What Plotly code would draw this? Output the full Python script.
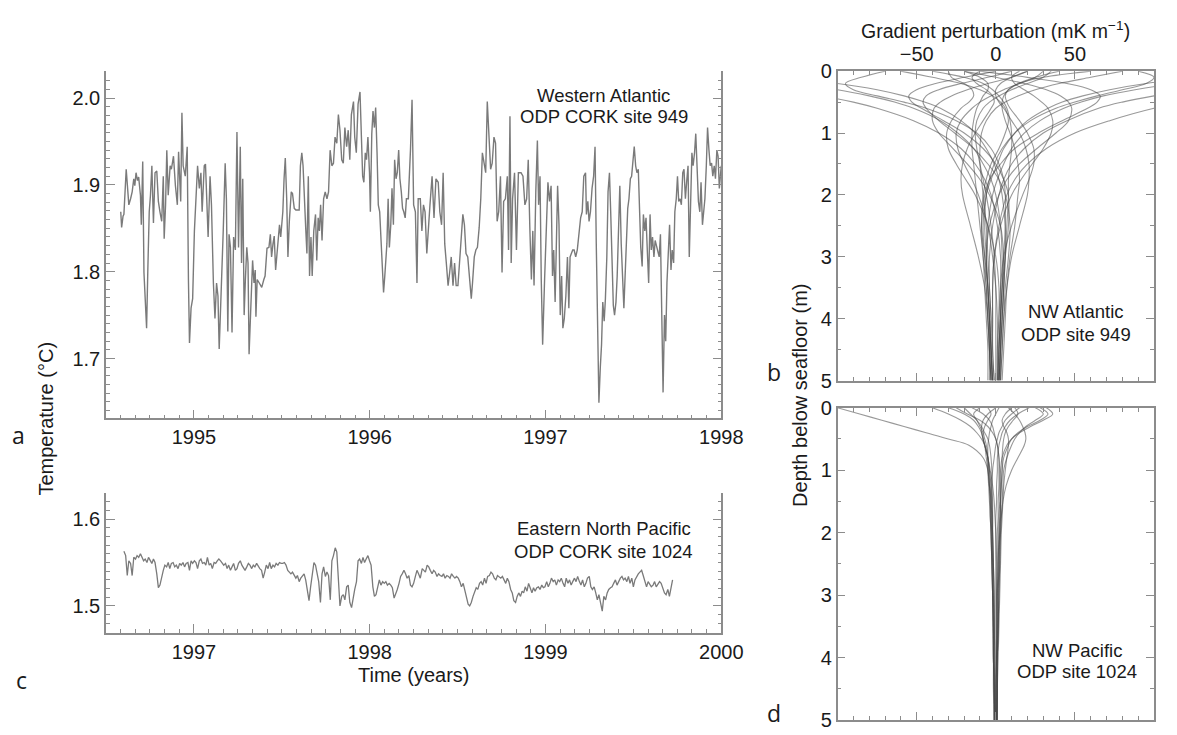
import plotly.graph_objects as go

# ---------------- data: panel a (Western Atlantic, ODP CORK 949) ----------------
A_POINTS = [
    (1994.584, 1.869), (1994.589, 1.851), (1994.597, 1.864), (1994.602, 1.866), (1994.615, 1.918),
    (1994.630, 1.877), (1994.640, 1.884), (1994.649, 1.892), (1994.658, 1.907), (1994.664, 1.899),
    (1994.671, 1.914), (1994.679, 1.905), (1994.686, 1.909), (1994.696, 1.888), (1994.701, 1.854),
    (1994.709, 1.927), (1994.716, 1.799), (1994.723, 1.765), (1994.731, 1.735), (1994.738, 1.802),
    (1994.746, 1.869), (1994.753, 1.888), (1994.761, 1.922), (1994.770, 1.856), (1994.779, 1.914),
    (1994.789, 1.916), (1994.798, 1.881), (1994.807, 1.869), (1994.817, 1.858), (1994.826, 1.910),
    (1994.831, 1.838), (1994.839, 1.877), (1994.846, 1.940), (1994.854, 1.888), (1994.865, 1.922),
    (1994.872, 1.918), (1994.884, 1.933), (1994.895, 1.899), (1994.906, 1.877), (1994.913, 1.938),
    (1994.925, 1.881), (1994.932, 1.983), (1994.939, 1.922), (1994.951, 1.910), (1994.962, 1.944),
    (1994.969, 1.791), (1994.975, 1.718), (1994.984, 1.758), (1994.993, 1.769), (1995.003, 1.847),
    (1995.012, 1.884), (1995.021, 1.922), (1995.031, 1.896), (1995.040, 1.914), (1995.047, 1.869),
    (1995.059, 1.922), (1995.066, 1.924), (1995.074, 1.884), (1995.081, 1.840), (1995.092, 1.910),
    (1995.100, 1.877), (1995.111, 1.787), (1995.120, 1.746), (1995.129, 1.787), (1995.137, 1.772),
    (1995.144, 1.711), (1995.155, 1.772), (1995.167, 1.847), (1995.178, 1.925), (1995.185, 1.884),
    (1995.193, 1.731), (1995.200, 1.843), (1995.208, 1.828), (1995.217, 1.730), (1995.226, 1.840),
    (1995.236, 1.825), (1995.245, 1.961), (1995.254, 1.828), (1995.264, 1.944), (1995.271, 1.810),
    (1995.278, 1.907), (1995.286, 1.750), (1995.293, 1.791), (1995.301, 1.828), (1995.308, 1.810),
    (1995.314, 1.705), (1995.323, 1.754), (1995.331, 1.791), (1995.334, 1.813), (1995.342, 1.787),
    (1995.349, 1.802), (1995.353, 1.748), (1995.360, 1.791), (1995.372, 1.787), (1995.386, 1.782),
    (1995.398, 1.791), (1995.405, 1.795), (1995.416, 1.827), (1995.427, 1.828), (1995.435, 1.843),
    (1995.442, 1.817), (1995.450, 1.832), (1995.457, 1.841), (1995.465, 1.802), (1995.472, 1.821),
    (1995.480, 1.838), (1995.487, 1.854), (1995.494, 1.840), (1995.506, 1.869), (1995.513, 1.907),
    (1995.520, 1.931), (1995.528, 1.884), (1995.535, 1.817), (1995.543, 1.858), (1995.554, 1.892),
    (1995.561, 1.890), (1995.571, 1.873), (1995.580, 1.871), (1995.599, 1.871), (1995.606, 1.922),
    (1995.614, 1.937), (1995.621, 1.922), (1995.628, 1.877), (1995.636, 1.851), (1995.643, 1.821),
    (1995.651, 1.910), (1995.658, 1.795), (1995.666, 1.840),
    (1995.673, 1.795), (1995.682, 1.847), (1995.692, 1.866), (1995.699, 1.813), (1995.707, 1.862),
    (1995.714, 1.847), (1995.721, 1.877), (1995.729, 1.836), (1995.738, 1.884), (1995.747, 1.892),
    (1995.757, 1.884), (1995.766, 1.892), (1995.775, 1.940), (1995.785, 1.922), (1995.794, 1.925),
    (1995.803, 1.955), (1995.813, 1.948), (1995.822, 1.981), (1995.831, 1.963), (1995.841, 1.929),
    (1995.850, 1.925), (1995.859, 1.966), (1995.869, 1.944), (1995.878, 1.963), (1995.887, 1.929),
    (1995.896, 1.981), (1995.908, 1.996), (1995.915, 1.955), (1995.924, 1.937), (1995.934, 1.993),
    (1995.945, 2.007), (1995.952, 1.959), (1995.960, 1.910), (1995.967, 1.903), (1995.975, 1.937),
    (1995.982, 1.929), (1995.990, 1.955), (1995.999, 1.914), (1996.004, 1.869), (1996.012, 1.959),
    (1996.019, 1.985), (1996.027, 1.966), (1996.034, 1.989), (1996.042, 1.937), (1996.049, 1.877),
    (1996.057, 1.869), (1996.064, 1.840), (1996.072, 1.795), (1996.079, 1.776), (1996.086, 1.795),
    (1996.098, 1.832), (1996.105, 1.884), (1996.112, 1.828), (1996.120, 1.854), (1996.127, 1.896),
    (1996.135, 1.854), (1996.142, 1.929), (1996.150, 1.907), (1996.157, 1.914), (1996.165, 1.940),
    (1996.172, 1.907), (1996.180, 1.892), (1996.187, 1.873), (1996.194, 1.869), (1996.202, 1.862),
    (1996.209, 1.884), (1996.220, 1.884), (1996.232, 1.940), (1996.241, 1.998), (1996.250, 1.877),
    (1996.260, 1.869), (1996.269, 1.787), (1996.276, 1.884), (1996.288, 1.884), (1996.297, 1.847),
    (1996.306, 1.877), (1996.315, 1.869), (1996.325, 1.821), (1996.334, 1.854), (1996.343, 1.877),
    (1996.355, 1.910), (1996.366, 1.862), (1996.377, 1.907), (1996.390, 1.903), (1996.399, 1.869),
    (1996.409, 1.854), (1996.418, 1.914), (1996.427, 1.832), (1996.436, 1.810), (1996.446, 1.784),
    (1996.455, 1.799), (1996.464, 1.817), (1996.474, 1.784), (1996.483, 1.810), (1996.492, 1.784),
    (1996.502, 1.784), (1996.511, 1.810), (1996.520, 1.840), (1996.530, 1.866), (1996.539, 1.854),
    (1996.548, 1.821), (1996.558, 1.817), (1996.567, 1.791), (1996.578, 1.769), (1996.585, 1.787),
    (1996.595, 1.817), (1996.604, 1.825), (1996.613, 1.828), (1996.623, 1.851), (1996.632, 1.884),
    (1996.641, 1.937), (1996.651, 1.922), (1996.660, 1.914), (1996.669, 1.996), (1996.679, 1.951),
    (1996.688, 1.918), (1996.697, 1.925), (1996.707, 1.955), (1996.716, 1.948), (1996.725, 1.858),
    (1996.734, 1.869), (1996.744, 1.910), (1996.753, 1.799), (1996.762, 1.881), (1996.772, 1.884),
    (1996.783, 1.910), (1996.790, 1.825), (1996.798, 1.979), (1996.805, 1.810), (1996.813, 1.884),
    (1996.824, 1.914), (1996.835, 1.825),
    (1996.846, 1.914), (1996.861, 1.914), (1996.872, 1.910), (1996.883, 1.877), (1996.893, 1.884),
    (1996.902, 1.929), (1996.911, 1.851), (1996.920, 1.791), (1996.928, 1.847), (1996.935, 1.784),
    (1996.945, 1.892), (1996.954, 1.951), (1996.961, 1.877), (1996.969, 1.910), (1996.976, 1.791),
    (1996.984, 1.716), (1996.995, 1.791), (1997.006, 1.866), (1997.014, 1.903), (1997.023, 1.881),
    (1997.032, 1.899), (1997.040, 1.795), (1997.047, 1.825), (1997.055, 1.765), (1997.062, 1.851),
    (1997.069, 1.899), (1997.077, 1.854), (1997.084, 1.750), (1997.092, 1.795), (1997.099, 1.735),
    (1997.107, 1.746), (1997.116, 1.772), (1997.125, 1.817), (1997.133, 1.758), (1997.140, 1.817),
    (1997.148, 1.821), (1997.155, 1.825), (1997.163, 1.825), (1997.172, 1.817), (1997.181, 1.825),
    (1997.191, 1.847), (1997.200, 1.862), (1997.209, 1.869), (1997.218, 1.910), (1997.228, 1.914),
    (1997.233, 1.866), (1997.241, 1.881), (1997.248, 1.858), (1997.256, 1.869), (1997.265, 1.896),
    (1997.274, 1.910), (1997.282, 1.944), (1997.289, 1.832), (1997.297, 1.713), (1997.304, 1.649),
    (1997.312, 1.690), (1997.319, 1.716), (1997.326, 1.765), (1997.334, 1.743), (1997.341, 1.769),
    (1997.349, 1.817), (1997.356, 1.892), (1997.364, 1.914), (1997.371, 1.869), (1997.379, 1.795),
    (1997.386, 1.761), (1997.393, 1.750), (1997.401, 1.765), (1997.408, 1.795), (1997.416, 1.840),
    (1997.423, 1.899), (1997.431, 1.832), (1997.438, 1.791), (1997.446, 1.758), (1997.453, 1.795),
    (1997.461, 1.847), (1997.468, 1.873), (1997.475, 1.884), (1997.483, 1.907), (1997.490, 1.910),
    (1997.498, 1.925), (1997.505, 1.944), (1997.513, 1.922), (1997.520, 1.914), (1997.528, 1.918),
    (1997.535, 1.866), (1997.542, 1.828), (1997.550, 1.806), (1997.557, 1.866), (1997.565, 1.847),
    (1997.572, 1.862), (1997.580, 1.821), (1997.587, 1.787), (1997.595, 1.866), (1997.602, 1.825),
    (1997.609, 1.840), (1997.617, 1.817), (1997.624, 1.836), (1997.632, 1.828), (1997.639, 1.825),
    (1997.647, 1.817), (1997.654, 1.843), (1997.662, 1.750), (1997.669, 1.661), (1997.677, 1.750),
    (1997.684, 1.720), (1997.691, 1.787), (1997.699, 1.825), (1997.706, 1.854), (1997.714, 1.802),
    (1997.721, 1.825), (1997.729, 1.810), (1997.736, 1.869), (1997.744, 1.884), (1997.751, 1.910),
    (1997.758, 1.881), (1997.766, 1.884), (1997.773, 1.877), (1997.781, 1.914), (1997.788, 1.918),
    (1997.796, 1.884), (1997.803, 1.903), (1997.811, 1.922), (1997.818, 1.817), (1997.826, 1.892),
    (1997.833, 1.937), (1997.840, 1.922), (1997.848, 1.937), (1997.855, 1.959), (1997.863, 1.914),
    (1997.870, 1.881), (1997.878, 1.869), (1997.885, 1.903), (1997.893, 1.854), (1997.900, 1.869),
    (1997.907, 1.884), (1997.915, 1.922), (1997.922, 1.966), (1997.930, 1.940), (1997.937, 1.922),
    (1997.945, 1.925), (1997.952, 1.910), (1997.960, 1.922), (1997.967, 1.907), (1997.975, 1.940),
    (1997.982, 1.933), (1997.989, 1.896), (1998.000, 1.922),
]

# ---------------- data: panel c (Eastern North Pacific, ODP CORK 1024) ----------------
C_POINTS = [
    (1996.602, 1.563), (1996.612, 1.558), (1996.621, 1.535), (1996.630, 1.552), (1996.640, 1.549),
    (1996.649, 1.535), (1996.658, 1.556), (1996.668, 1.554), (1996.677, 1.558), (1996.686, 1.556),
    (1996.696, 1.560), (1996.705, 1.556), (1996.714, 1.552), (1996.723, 1.554), (1996.733, 1.550),
    (1996.742, 1.556), (1996.751, 1.552), (1996.761, 1.549), (1996.770, 1.554), (1996.779, 1.550),
    (1996.789, 1.537), (1996.798, 1.521), (1996.807, 1.524), (1996.817, 1.534), (1996.826, 1.541),
    (1996.835, 1.547), (1996.845, 1.545), (1996.854, 1.550), (1996.863, 1.543), (1996.872, 1.549),
    (1996.882, 1.550), (1996.891, 1.545), (1996.900, 1.547), (1996.910, 1.543), (1996.919, 1.549),
    (1996.928, 1.547), (1996.938, 1.550), (1996.947, 1.545), (1996.956, 1.549), (1996.966, 1.550),
    (1996.975, 1.541), (1996.984, 1.552), (1996.993, 1.549), (1997.003, 1.552), (1997.012, 1.550),
    (1997.021, 1.543), (1997.031, 1.552), (1997.040, 1.554), (1997.049, 1.549), (1997.059, 1.550),
    (1997.068, 1.547), (1997.077, 1.556), (1997.087, 1.547), (1997.096, 1.549), (1997.105, 1.543),
    (1997.115, 1.550), (1997.124, 1.549), (1997.133, 1.552), (1997.142, 1.554), (1997.152, 1.552),
    (1997.161, 1.550), (1997.170, 1.547), (1997.180, 1.549), (1997.189, 1.543), (1997.198, 1.547),
    (1997.208, 1.541), (1997.217, 1.545), (1997.226, 1.549), (1997.236, 1.541), (1997.245, 1.543),
    (1997.254, 1.549), (1997.264, 1.552), (1997.273, 1.547), (1997.282, 1.543), (1997.291, 1.541),
    (1997.301, 1.545), (1997.310, 1.549), (1997.319, 1.547), (1997.329, 1.543), (1997.338, 1.547),
    (1997.347, 1.545), (1997.357, 1.549), (1997.366, 1.545), (1997.375, 1.543), (1997.385, 1.541),
    (1997.394, 1.532), (1997.403, 1.539), (1997.412, 1.547), (1997.422, 1.543), (1997.431, 1.550),
    (1997.440, 1.543), (1997.450, 1.547), (1997.459, 1.545), (1997.468, 1.549), (1997.478, 1.547),
    (1997.487, 1.550), (1997.496, 1.549), (1997.506, 1.549), (1997.515, 1.550), (1997.524, 1.547),
    (1997.534, 1.541), (1997.543, 1.539), (1997.552, 1.537), (1997.561, 1.539), (1997.571, 1.535),
    (1997.580, 1.532), (1997.589, 1.535), (1997.599, 1.528), (1997.608, 1.532), (1997.617, 1.534),
    (1997.627, 1.537), (1997.636, 1.530), (1997.645, 1.517), (1997.655, 1.506), (1997.664, 1.522),
    (1997.673, 1.537), (1997.683, 1.550), (1997.692, 1.547), (1997.701, 1.537), (1997.710, 1.528),
    (1997.720, 1.504), (1997.729, 1.537), (1997.738, 1.545), (1997.748, 1.534), (1997.757, 1.539),
    (1997.766, 1.535), (1997.776, 1.507), (1997.785, 1.552), (1997.794, 1.558), (1997.804, 1.567),
    (1997.813, 1.562), (1997.822, 1.526), (1997.831, 1.500), (1997.841, 1.511), (1997.850, 1.513),
    (1997.859, 1.507), (1997.869, 1.522), (1997.878, 1.524), (1997.887, 1.504), (1997.897, 1.498),
    (1997.906, 1.511), (1997.915, 1.519), (1997.925, 1.528), (1997.934, 1.552), (1997.943, 1.554),
    (1997.953, 1.549), (1997.962, 1.556), (1997.971, 1.550), (1997.980, 1.554), (1997.990, 1.558),
    (1997.999, 1.552), (1998.008, 1.547), (1998.018, 1.522), (1998.027, 1.511), (1998.036, 1.513),
    (1998.046, 1.522), (1998.055, 1.530), (1998.064, 1.524), (1998.074, 1.528), (1998.083, 1.526),
    (1998.092, 1.528), (1998.101, 1.524), (1998.111, 1.526), (1998.120, 1.524), (1998.129, 1.521),
    (1998.139, 1.509), (1998.148, 1.513), (1998.157, 1.519), (1998.167, 1.526), (1998.176, 1.534),
    (1998.185, 1.537), (1998.195, 1.541), (1998.204, 1.537), (1998.213, 1.532), (1998.223, 1.535),
    (1998.232, 1.524), (1998.241, 1.522), (1998.250, 1.526), (1998.260, 1.534), (1998.269, 1.541),
    (1998.278, 1.537), (1998.288, 1.532),
    (1998.299, 1.543), (1998.308, 1.541), (1998.317, 1.539), (1998.327, 1.547), (1998.336, 1.545),
    (1998.345, 1.541), (1998.355, 1.537), (1998.364, 1.541), (1998.373, 1.539), (1998.383, 1.534),
    (1998.392, 1.537), (1998.401, 1.535), (1998.411, 1.534), (1998.420, 1.537), (1998.429, 1.532),
    (1998.439, 1.535), (1998.448, 1.534), (1998.457, 1.532), (1998.466, 1.537), (1998.476, 1.534),
    (1998.485, 1.532), (1998.494, 1.534), (1998.504, 1.532), (1998.513, 1.528), (1998.522, 1.522),
    (1998.532, 1.526), (1998.541, 1.519), (1998.550, 1.509), (1998.560, 1.502), (1998.569, 1.500),
    (1998.578, 1.504), (1998.588, 1.511), (1998.597, 1.515), (1998.606, 1.521), (1998.615, 1.519),
    (1998.625, 1.526), (1998.634, 1.528), (1998.643, 1.524), (1998.653, 1.532), (1998.662, 1.526),
    (1998.671, 1.534), (1998.681, 1.535), (1998.690, 1.539), (1998.699, 1.537), (1998.709, 1.532),
    (1998.718, 1.530), (1998.727, 1.535), (1998.736, 1.534), (1998.746, 1.532), (1998.755, 1.534),
    (1998.764, 1.530), (1998.774, 1.526), (1998.783, 1.532), (1998.792, 1.528), (1998.802, 1.519),
    (1998.811, 1.515), (1998.820, 1.506), (1998.830, 1.504), (1998.839, 1.511), (1998.848, 1.515),
    (1998.858, 1.511), (1998.867, 1.517), (1998.876, 1.515), (1998.885, 1.522), (1998.895, 1.517),
    (1998.904, 1.526), (1998.913, 1.521), (1998.923, 1.515), (1998.932, 1.521), (1998.941, 1.517),
    (1998.951, 1.521), (1998.960, 1.522), (1998.969, 1.519), (1998.979, 1.524), (1998.988, 1.521),
    (1998.997, 1.522), (1999.007, 1.528), (1999.016, 1.522), (1999.025, 1.526), (1999.034, 1.532),
    (1999.044, 1.528), (1999.053, 1.530), (1999.062, 1.524), (1999.072, 1.530), (1999.081, 1.528),
    (1999.090, 1.532), (1999.100, 1.526), (1999.109, 1.522), (1999.118, 1.532), (1999.128, 1.526),
    (1999.137, 1.530), (1999.146, 1.524), (1999.155, 1.528), (1999.165, 1.532), (1999.174, 1.528),
    (1999.183, 1.534), (1999.193, 1.528), (1999.202, 1.524), (1999.211, 1.530), (1999.221, 1.522),
    (1999.230, 1.526), (1999.239, 1.532), (1999.249, 1.534), (1999.258, 1.522), (1999.267, 1.519),
    (1999.277, 1.522), (1999.286, 1.515), (1999.295, 1.507), (1999.304, 1.513), (1999.314, 1.504),
    (1999.323, 1.494), (1999.332, 1.511), (1999.342, 1.507), (1999.351, 1.515), (1999.360, 1.519),
    (1999.370, 1.521), (1999.379, 1.522), (1999.388, 1.526), (1999.398, 1.530), (1999.407, 1.524),
    (1999.416, 1.528), (1999.426, 1.532), (1999.435, 1.534), (1999.444, 1.530), (1999.453, 1.532),
    (1999.463, 1.528), (1999.472, 1.534), (1999.481, 1.526), (1999.491, 1.532), (1999.500, 1.522),
    (1999.509, 1.530), (1999.519, 1.534), (1999.528, 1.537), (1999.537, 1.539), (1999.547, 1.541),
    (1999.556, 1.535), (1999.565, 1.528), (1999.575, 1.522), (1999.584, 1.528), (1999.593, 1.524),
    (1999.602, 1.522), (1999.612, 1.524), (1999.621, 1.528), (1999.630, 1.522), (1999.640, 1.526),
    (1999.649, 1.528), (1999.658, 1.526), (1999.668, 1.519), (1999.677, 1.515), (1999.686, 1.513),
    (1999.696, 1.519), (1999.705, 1.511), (1999.714, 1.522), (1999.723, 1.530),
]

# ---------------- data: gradient perturbation profiles (mK/m) ----------------
DEPTHS = [0, 0.1, 0.2, 0.3, 0.4, 0.5, 0.6, 0.8, 1.0, 1.25, 1.5, 1.75, 2.0, 2.5, 3.0, 3.5, 4.0, 4.5, 5.0]

B_PROFILES = [
    [200, 130, 95, 72, 55, 42, 33, 20, 12, 5, 1, -3, -6, -8, -7, -6, -5, -4, -4],
    [250, 160, 115, 88, 68, 54, 43, 28, 18, 10, 5, 1, -2, -5, -6, -5, -4, -4, -3],
    [300, 220, 160, 125, 100, 80, 65, 45, 30, 18, 10, 5, 2, -2, -4, -4, -3, -3, -2],
    [400, 300, 230, 180, 145, 120, 100, 72, 50, 32, 20, 12, 7, 2, -1, -2, -2, -2, -1],
    [-200, -140, -100, -75, -58, -45, -35, -22, -13, -6, -1, 2, 4, 6, 6, 5, 4, 3, 3],
    [-250, -180, -130, -100, -80, -64, -52, -35, -24, -14, -8, -3, 0, 3, 4, 4, 3, 3, 2],
    [-300, -230, -170, -135, -110, -90, -75, -52, -36, -22, -13, -7, -3, 1, 3, 3, 3, 2, 2],
    [0, -20, -38, -50, -55, -53, -47, -33, -20, -8, 0, 5, 8, 8, 6, 4, 3, 2, 2],
    [10, -5, -22, -36, -44, -46, -44, -36, -26, -14, -5, 2, 6, 9, 8, 6, 5, 4, 3],
    [20, 10, -5, -18, -28, -35, -39, -40, -36, -27, -18, -10, -4, 3, 5, 5, 4, 3, 2],
    [-30, -28, -20, -15, -14, -17, -22, -28, -31, -30, -25, -19, -13, -5, 0, 2, 2, 2, 1],
    [30, 25, 15, 5, -3, -10, -15, -22, -25, -24, -20, -15, -11, -5, -2, 0, 1, 1, 1],
    [-10, -15, -12, -6, -2, -1, -3, -8, -13, -18, -21, -22, -21, -16, -11, -7, -5, -4, -3],
    [-20, -10, -5, -5, -8, -10, -12, -14, -15, -15, -14, -13, -12, -10, -8, -7, -6, -5, -5],
    [-10, 20, 45, 60, 66, 64, 58, 42, 27, 12, 3, -4, -7, -9, -7, -5, -4, -3, -3],
    [-20, 0, 18, 32, 41, 46, 48, 46, 38, 26, 15, 7, 2, -4, -6, -5, -4, -3, -2],
    [15, 10, 12, 18, 24, 29, 33, 36, 35, 30, 23, 16, 10, 3, -1, -2, -2, -2, -1],
    [40, 25, 14, 8, 6, 7, 9, 15, 20, 24, 24, 21, 17, 10, 5, 3, 2, 1, 1],
    [20, 10, 3, 0, 0, 2, 5, 10, 15, 19, 21, 21, 20, 15, 10, 7, 5, 4, 3],
    [60, 30, 15, 8, 5, 4, 4, 6, 9, 12, 14, 15, 14, 12, 9, 7, 6, 5, 4],
    [-40, -20, -8, -2, 2, 5, 7, 9, 10, 10, 9, 8, 8, 7, 6, 5, 4, 3, 2],
    [35, 30, 20, 10, 2, -4, -8, -12, -13, -12, -10, -8, -6, -3, -1, 0, 0, 0, 0],
    [-60, -40, -22, -10, -2, 3, 6, 8, 6, 2, -3, -6, -8, -9, -8, -6, -5, -4, -3],
    [80, 60, 40, 25, 14, 6, 0, -6, -9, -10, -10, -9, -8, -6, -5, -4, -3, -3, -2],
    [-70, -85, -95, -90, -75, -58, -44, -25, -12, -3, 2, 5, 6, 6, 5, 4, 3, 2, 2],
    [90, 100, 95, 80, 64, 50, 38, 22, 12, 4, -1, -4, -6, -7, -6, -5, -4, -3, -2],
]

D_PROFILES = [
    [-100, -86, -72, -58, -44, -30, -17, -8, -5, -4, -3.5, -3, -3, -2.5, -2, -1.5, -1.5, -1, -1],
    [32, 36, 30, 22, 15, 10, 7, 4, 3, 2.5, 2.5, 2, 2, 1.5, 1, 1, 0.5, 0.5, 0.5],
    [28, 33, 28, 20, 14, 10, 8, 5, 4, 3.5, 3, 3, 2.5, 2, 1.5, 1.5, 1, 1, 0.5],
    [25, 30, 25, 19, 15, 12, 10, 7, 5, 4.5, 4, 3.5, 3, 2.5, 2, 1.5, 1, 1, 1],
    [21, 14, 9, 6, 4, 3, 2, 1, 1, 0.5, 0.5, 0, 0, 0, 0, 0, 0, 0, 0],
    [-40, -30, -22, -16, -12, -9, -7, -5, -4, -3.5, -3, -3, -2.5, -2, -1.5, -1, -1, -1, -0.5],
    [-20, -16, -12, -9, -7, -5, -4, -3, -2.5, -2.5, -2, -2, -2, -1.5, -1.5, -1, -1, -1, -0.5],
    [-10, -14, -12, -10, -8, -7, -6, -5, -4.5, -4, -3.5, -3.5, -3, -2.5, -2, -2, -1.5, -1.5, -1],
    [-5, -3, -5, -7, -8, -8, -7, -5, -4, -3, -2.5, -2, -2, -1.5, -1, -1, -1, -0.5, -0.5],
    [8, 12, 15, 17, 18.5, 19, 18, 14, 10, 6.5, 4.5, 3.5, 3, 2.5, 2, 1.5, 1, 1, 0.5],
    [10, 6, 4, 5, 7, 8, 8, 7, 6, 5, 4.5, 4, 3.5, 3, 2.5, 2, 1.5, 1, 1],
    [-15, -8, -4, -2, -1, 0, 1, 2, 2.5, 3, 3, 2.5, 2, 1.5, 1, 1, 0.5, 0.5, 0.5],
    [0, -5, -8, -9, -9, -8, -7, -5, -3.5, -2, -1, -0.5, 0, 0.5, 0.5, 0.5, 0.5, 0, 0],
    [15, 10, 6, 4, 2, 1, 0, -1, -2, -2.5, -2.5, -2.5, -2.5, -2, -2, -1.5, -1.5, -1, -1],
    [-25, -18, -10, -5, -2, 0, 1, 2, 2, 2, 1.5, 1.5, 1, 1, 0.5, 0.5, 0.5, 0, 0],
    [2, 0, -2, -3, -4, -4.5, -5, -5, -5, -4.5, -4, -3.5, -3, -2.5, -2, -1.5, -1.5, -1, -1],
    [12, 14, 11, 8, 6, 5, 4.5, 4, 4, 3.5, 3, 3, 2.5, 2, 1.5, 1.5, 1, 1, 1],
    [-30, -20, -14, -11, -9, -8, -7, -6, -5, -4, -3, -2.5, -2, -1.5, -1, -1, -0.5, -0.5, 0],
]

A_TICKS = [1995, 1996, 1997, 1998]
C_TICKS = [1997, 1998, 1999, 2000]
A_YTICKS = [1.7, 1.8, 1.9, 2.0]
C_YTICKS = [1.5, 1.6]
G_TICKS = [-50, 0, 50]
G_TICKTEXT = ["\u221250", "0", "50"]
DEPTH_TICKS = [0, 1, 2, 3, 4, 5]

# ---------------- figure ----------------
fig = go.Figure()

SERIES_COLOR = "#7a7a7a"
PROFILE_COLOR = "rgba(70,70,70,0.55)"

fig.add_trace(go.Scatter(x=[p[0] for p in A_POINTS], y=[p[1] for p in A_POINTS],
                         mode="lines", line=dict(color=SERIES_COLOR, width=1.4),
                         xaxis="x", yaxis="y", hoverinfo="skip"))
fig.add_trace(go.Scatter(x=[p[0] for p in C_POINTS], y=[p[1] for p in C_POINTS],
                         mode="lines", line=dict(color=SERIES_COLOR, width=1.3),
                         xaxis="x2", yaxis="y2", hoverinfo="skip"))
for prof in B_PROFILES:
    fig.add_trace(go.Scatter(x=prof, y=DEPTHS, mode="lines",
                             line=dict(color=PROFILE_COLOR, width=1.1, shape="spline", smoothing=1.0),
                             xaxis="x3", yaxis="y3", hoverinfo="skip"))
for prof in D_PROFILES:
    fig.add_trace(go.Scatter(x=prof, y=DEPTHS, mode="lines",
                             line=dict(color=PROFILE_COLOR, width=1.1, shape="spline", smoothing=1.0),
                             xaxis="x4", yaxis="y4", hoverinfo="skip"))

AXC = "#8c8c8c"
TICKFONT = dict(family="Liberation Sans, Arial, sans-serif", size=20, color="#1a1a1a")
base = dict(showline=True, linecolor=AXC, linewidth=1.5, ticks="inside", tickcolor=AXC,
            tickwidth=1.2, showgrid=False, zeroline=False, tickfont=TICKFONT, fixedrange=True)

def minor(t0, dt):
    return dict(tick0=t0, dtick=dt, ticks="inside", ticklen=4, tickcolor=AXC, tickwidth=1, showgrid=False)

XA = [108 / 1177, 735 / 1177]
XB = [853.5 / 1177, 1176 / 1177]

fig.update_layout(
    width=1177, height=735, margin=dict(l=0, r=0, t=0, b=0),
    paper_bgcolor="white", plot_bgcolor="white", showlegend=False,
    xaxis=dict(base, domain=XA, range=[1994.5, 1998.0], tickvals=A_TICKS, ticklen=9,
               minor=minor(1995, 1 / 12), anchor="y"),
    yaxis=dict(base, domain=[1 - 420 / 735, 1 - 62 / 735], range=[1.631, 2.031],
               tickvals=A_YTICKS, ticktext=["%.1f" % v for v in A_YTICKS], ticklen=9,
               minor=minor(1.7, 0.01), mirror="ticks", anchor="x"),
    xaxis2=dict(base, domain=XA, range=[1996.5, 2000.0], tickvals=C_TICKS, ticklen=9,
                minor=minor(1997, 1 / 12), anchor="y2"),
    yaxis2=dict(base, domain=[1 - 641 / 735, 1 - 497 / 735], range=[1.469, 1.630],
                tickvals=C_YTICKS, ticktext=["%.1f" % v for v in C_YTICKS], ticklen=9,
                minor=minor(1.5, 0.01), mirror="ticks", anchor="x2"),
    xaxis3=dict(base, domain=XB, range=[-100, 100], side="top", tickvals=G_TICKS,
                ticktext=G_TICKTEXT, ticklen=8, minor=minor(0, 10), mirror="ticks", anchor="y3"),
    yaxis3=dict(base, domain=[1 - 381 / 735, 1 - 62 / 735], range=[5, 0], tickvals=DEPTH_TICKS,
                ticklen=8, minor=minor(0, 0.5), mirror="ticks", anchor="x3"),
    xaxis4=dict(base, domain=XB, range=[-100, 100], side="top", tickvals=G_TICKS,
                showticklabels=False, ticklen=8, minor=minor(0, 10), mirror="ticks", anchor="y4"),
    yaxis4=dict(base, domain=[1 - 731 / 735, 1 - 409 / 735], range=[5, 0], tickvals=DEPTH_TICKS,
                ticklen=8, minor=minor(0, 0.5), mirror="ticks", anchor="x4"),
)

TXT = "Liberation Sans, Arial, sans-serif"
LET = "Open Sans, sans-serif"

def ann(text, x, y, size=18.5, family=TXT, angle=0, xanchor="center"):
    fig.add_annotation(text=text, x=x / 1177, y=1 - y / 735, xref="paper", yref="paper",
                       showarrow=False, font=dict(family=family, size=size, color="#1a1a1a"),
                       textangle=angle, xanchor=xanchor, yanchor="middle")

ann("Western Atlantic", 615, 87)
ann("ODP CORK site 949", 615, 109)
ann("Eastern North Pacific", 615, 533)
ann("ODP CORK site 1024", 615, 557)
ann("NW Atlantic", 1097, 310)
ann("ODP site 949", 1097, 333)
ann("NW Pacific", 1098, 659)
ann("ODP site 1024", 1098, 681)
ann("Gradient perturbation (mK m<sup>\u22121</sup>)", 1014, 20, size=19.5)
ann("Temperature (\u00b0C)", 47, 420, size=20, angle=-90)
ann("Depth below seafloor (m)", 815, 396, size=20, angle=-90)
ann("Time (years)", 421, 685, size=20)
ann("a", 19, 437, size=23, family=LET)
ann("c", 22, 690, size=23, family=LET)
ann("b", 789, 372, size=23, family=LET)
ann("d", 789, 724, size=23, family=LET)

fig.write_html("out.html")
